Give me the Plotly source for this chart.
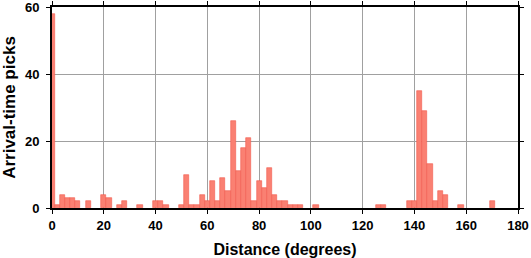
import plotly.graph_objects as go

# bin centers (degrees, 2-degree bins) and counts
centers = list(range(0, 182, 2))
nonzero = {
    0: 58, 2: 1, 4: 4, 6: 3, 8: 3, 10: 2, 14: 2, 20: 4, 22: 3, 26: 1, 28: 2,
    34: 1, 40: 2, 42: 2, 44: 1, 50: 1, 52: 10, 54: 1, 56: 1, 58: 4, 60: 2,
    62: 8, 64: 2, 66: 9, 68: 5, 70: 26, 72: 11, 74: 18, 76: 21, 78: 2,
    80: 8, 82: 6, 84: 12, 86: 4, 88: 2, 90: 2, 92: 1, 94: 1, 96: 1,
    102: 1, 126: 1, 128: 1, 138: 2, 140: 2, 142: 35, 144: 29, 146: 13,
    148: 2, 150: 5, 152: 4, 158: 1, 170: 2,
}
counts = [nonzero.get(c, 0) for c in centers]
xticks = [0, 20, 40, 60, 80, 100, 120, 140, 160, 180]
yticks = [0, 20, 40, 60]

fig = go.Figure()
fig.add_trace(go.Bar(
    x=centers, y=[c if c > 0 else None for c in counts], width=2,
    marker=dict(color="#fa8072", line=dict(color="#f25a4e", width=0.6)),
))

font = dict(family="Liberation Sans, Arial, sans-serif", color="black")
fig.update_layout(
    width=531, height=258,
    margin=dict(l=52, r=13, t=7, b=50, autoexpand=False),
    plot_bgcolor="white", paper_bgcolor="white",
    showlegend=False, bargap=0,
    font=dict(**font, size=13, weight="bold"),
)
fig.update_xaxes(
    range=[0, 180], tickvals=xticks, ticks="outside", ticklen=4, tickwidth=1,
    tickcolor="black", showline=True, linecolor="black", linewidth=2,
    mirror="allticks", showgrid=True, gridcolor="#a0a0a0", gridwidth=1,
    zeroline=False, automargin=False, ticklabeloverflow="allow",
    title=dict(text="Distance (degrees)", font=dict(size=16, weight="bold"), standoff=13),
    tickfont=dict(size=13, weight="bold"),
)
fig.update_yaxes(
    range=[0, 60], tickvals=yticks, ticks="outside", ticklen=4, tickwidth=1,
    tickcolor="black", showline=True, linecolor="black", linewidth=2,
    mirror="allticks", showgrid=True, gridcolor="#a0a0a0", gridwidth=1,
    zeroline=False, automargin=False, ticklabeloverflow="allow",
    ticklabelstandoff=4,
    title=dict(text="Arrival-time picks", font=dict(size=17, weight="bold"), standoff=9),
    tickfont=dict(size=13, weight="bold"),
)
fig.write_html("out.html")
